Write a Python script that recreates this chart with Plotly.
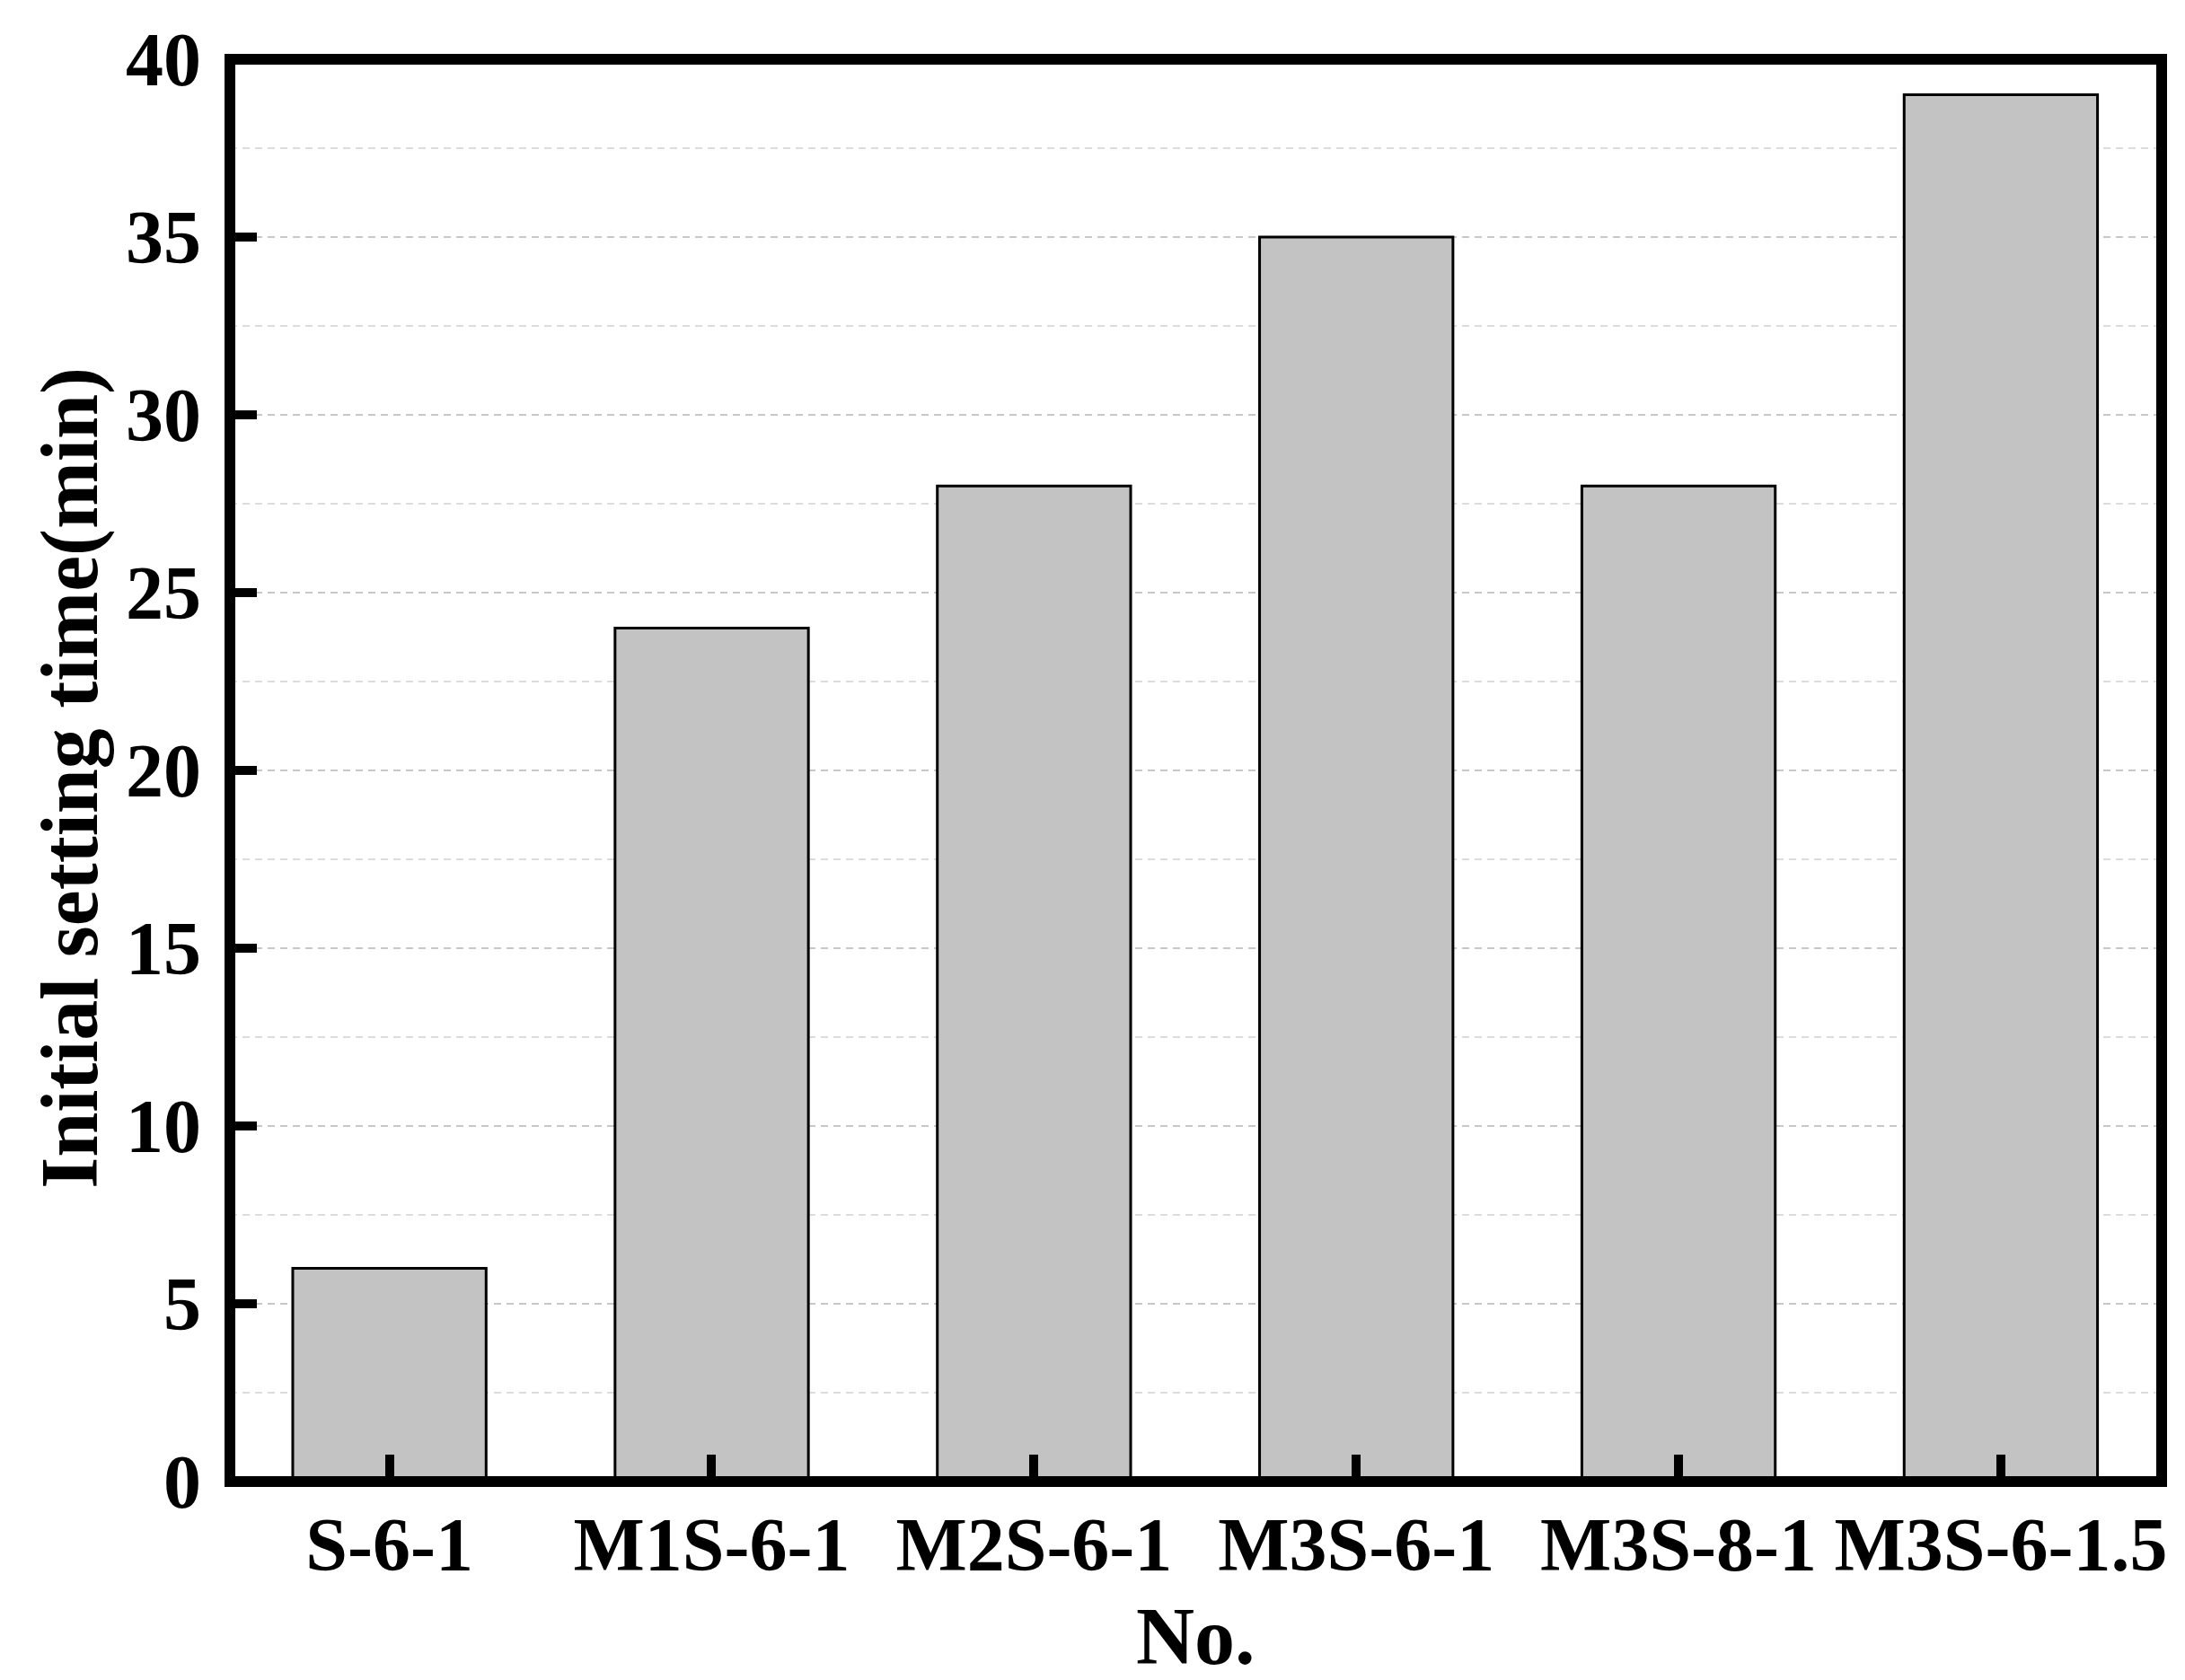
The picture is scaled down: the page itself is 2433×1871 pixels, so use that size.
import plotly.graph_objects as go

categories = ["S-6-1", "M1S-6-1", "M2S-6-1", "M3S-6-1", "M3S-8-1", "M3S-6-1.5"]
setting_time = [6, 24, 28, 35, 28, 39]
y_ticks = [0, 5, 10, 15, 20, 25, 30, 35, 40]
x_title = "No."
y_title = "Initial setting time(min)"

FONT = "Liberation Serif"

fig = go.Figure()
fig.add_trace(go.Bar(
    x=list(range(len(categories))),
    y=setting_time,
    width=0.6,
    marker=dict(color="#c3c3c3", line=dict(color="black", width=3)),
    showlegend=False,
))

# plot frame drawn centred on the plot-area edges
fig.add_shape(type="rect", xref="paper", yref="paper", x0=0, x1=1, y0=0, y1=1,
              line=dict(color="black", width=12), fillcolor="rgba(0,0,0,0)", layer="above")

# axis titles
fig.add_annotation(text="<b>%s</b>" % x_title, xref="paper", yref="paper", x=0.5, y=-0.109,
                   xanchor="center", yanchor="middle", showarrow=False,
                   font=dict(family=FONT, size=90, color="black"))
fig.add_annotation(text="<b>%s</b>" % y_title, xref="paper", yref="paper", x=-0.0828, y=0.495,
                   xanchor="center", yanchor="middle", showarrow=False, textangle=-90,
                   font=dict(family=FONT, size=90, color="black"))

fig.update_layout(
    width=2433, height=1871,
    margin=dict(l=248, r=34, t=58, b=229),
    plot_bgcolor="white", paper_bgcolor="white",
    font=dict(family=FONT, color="black"),
    xaxis=dict(
        range=[-0.495, 5.499],
        tickmode="array", tickvals=list(range(len(categories))), ticktext=categories,
        ticks="inside", ticklen=30, tickwidth=10, tickcolor="black",
        showline=False, showgrid=False, zeroline=False,
        ticklabelstandoff=14,
        tickfont=dict(family=FONT, size=84, color="black", weight="bold"),
    ),
    yaxis=dict(
        range=[0, 40],
        tickmode="array", tickvals=y_ticks, ticktext=[str(v) for v in y_ticks],
        ticks="inside", ticklen=30, tickwidth=10, tickcolor="black",
        showline=False,
        showgrid=True, gridcolor="#c8c8c8", gridwidth=2, griddash="8px,6px",
        minor=dict(tickmode="array", tickvals=[2.5 + 5 * i for i in range(8)], showgrid=True,
                   gridcolor="#dcdcdc", gridwidth=2, griddash="8px,6px", ticks=""),
        zeroline=False,
        ticklabelstandoff=31,
        tickfont=dict(family=FONT, size=84, color="black", weight="bold"),
    ),
)

fig.write_html("out.html")
